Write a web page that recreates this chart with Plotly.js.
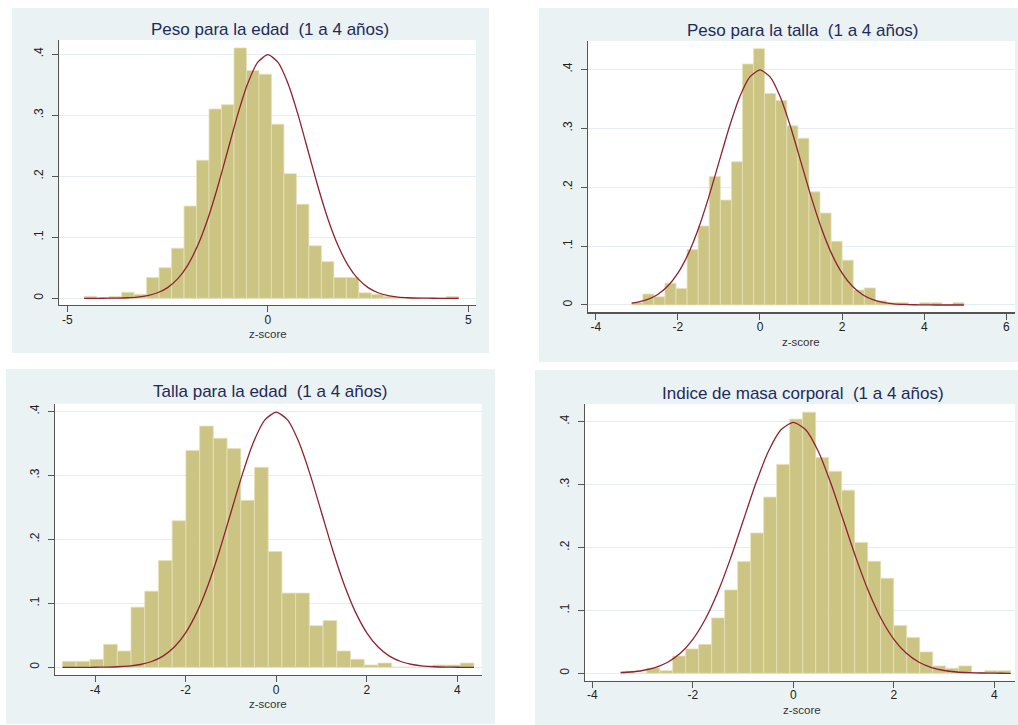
<!DOCTYPE html>
<html><head><meta charset="utf-8">
<script src="https://cdn.plot.ly/plotly-3.0.1.min.js"></script>
<style>html,body{margin:0;padding:0;background:#fff}#chart{width:1018px;height:725px}</style>
</head><body><div id="chart"></div>
<script>
// ---- data ----
const panelTitles = [
  'Peso para la edad  (1 a 4 años)',
  'Peso para la talla  (1 a 4 años)',
  'Talla para la edad  (1 a 4 años)',
  'Indice de masa corporal  (1 a 4 años)'
];
const xAxisTitle = 'z-score';

// histogram bins: first edge, bin width, densities (30 bins each)
const binStart = [-4.58, -3.123, -4.72, -3.436];
const binWidth = [0.3113, 0.2697, 0.3029, 0.2587];

const densPesoEdad = [0.0033, 0, 0.003, 0.0098, 0.0065, 0.034, 0.050, 0.082, 0.151, 0.226,
  0.310, 0.317, 0.410, 0.373, 0.367, 0.285, 0.204, 0.154, 0.086, 0.060,
  0.034, 0.034, 0.009, 0.0065, 0.003, 0.0015, 0.0015, 0, 0, 0.003];
const densPesoTalla = [0.004, 0.0187, 0.014, 0.037, 0.028, 0.094, 0.134, 0.218, 0.178, 0.243,
  0.409, 0.435, 0.359, 0.347, 0.304, 0.283, 0.192, 0.156, 0.108, 0.076,
  0.0255, 0.029, 0.007, 0.004, 0.004, 0.0015, 0.004, 0.004, 0, 0.004];
const densTallaEdad = [0.0094, 0.0094, 0.0125, 0.036, 0.0255, 0.094, 0.119, 0.167, 0.229, 0.339,
  0.377, 0.358, 0.342, 0.261, 0.3125, 0.181, 0.116, 0.116, 0.065, 0.073,
  0.0255, 0.0125, 0.0036, 0.0068, 0, 0, 0, 0.0036, 0.0036, 0.0068];
const densIMC = [0.0032, 0, 0.0085, 0.0042, 0.0275, 0.0387, 0.046, 0.088, 0.1325, 0.1775,
  0.223, 0.280, 0.332, 0.404, 0.415, 0.343, 0.321, 0.291, 0.208, 0.178,
  0.151, 0.076, 0.057, 0.034, 0.0117, 0.008, 0.0117, 0.0015, 0.0042, 0.0042];
const densities = [densPesoEdad, densPesoTalla, densTallaEdad, densIMC];

// reference normal density curve, read at 0.25 steps
const normX = [-4.75,-4.5,-4.25,-4,-3.75,-3.5,-3.25,-3,-2.75,-2.5,-2.25,-2,-1.75,-1.5,-1.25,-1,-0.75,-0.5,-0.25,0,
  0.25,0.5,0.75,1,1.25,1.5,1.75,2,2.25,2.5,2.75,3,3.25,3.5,3.75,4,4.25,4.5,4.75,5];
const normY = [0,0,0,0.0001,0.0004,0.0009,0.002,0.0044,0.0091,0.0175,0.0317,0.054,0.0863,0.1295,0.1826,0.242,0.3011,0.3521,0.3867,0.3989,
  0.3867,0.3521,0.3011,0.242,0.1826,0.1295,0.0863,0.054,0.0317,0.0175,0.0091,0.0044,0.002,0.0009,0.0004,0.0001,0,0,0,0];
// curve end points per panel (data range)
const curveLo = [-4.58, -3.123, -4.72, -3.436];
const curveLoY = [0, 0.003, 0, 0.0011];
const curveHi = [4.76, 4.969, 4.367, 4.325];
const curveHiY = [0, 0, 0, 0];

const xTickVals = [[-5, 0, 5], [-4, -2, 0, 2, 4, 6], [-4, -2, 0, 2, 4], [-4, -2, 0, 2, 4]];
const xTickText = [['-5', '0', '5'], ['-4', '-2', '0', '2', '4', '6'], ['-4', '-2', '0', '2', '4'], ['-4', '-2', '0', '2', '4']];
const yTickVals = [0, 0.1, 0.2, 0.3, 0.4];
const yTickText = ['0', '.1', '.2', '.3', '.4'];

// ---- layout geometry (pixels) ----
const W = 1018, H = 725;
const panelBox = [[12, 8, 489, 353], [539, 8, 1018, 362], [6, 369, 495, 724], [535, 370, 1018, 725]];
const plotBox  = [[59.3, 40, 476, 305], [587.7, 41, 1015, 312.3], [55, 403.7, 481.7, 675], [585, 404, 1015, 680.7]];
const xRanges = [[-5.2, 5.19], [-4.195, 6.21], [-4.884, 4.537], [-4.145, 4.41]];
const yRanges = [[-0.011, 0.423], [-0.0124, 0.448], [-0.012, 0.412], [-0.0118, 0.428]];
const titlePos = [[269.5, 30], [803, 30.5], [270, 392], [803.3, 393]];
const xTitlePos = [[268, 334], [801, 342], [268.3, 704], [801.7, 710]];

const BAR = '#CCC483', BAR_LINE = '#E6E1B9', CURVE = '#8E2231', AX = '#555555';
const FONT = 'Liberation Sans, Arial, sans-serif';

const data = [], shapes = [], annotations = [];
const layout = {
  width: W, height: H, margin: {l: 0, r: 0, t: 0, b: 0},
  paper_bgcolor: '#ffffff', plot_bgcolor: 'rgba(0,0,0,0)',
  showlegend: false, bargap: 0, font: {family: FONT, color: '#222'}
};

for (let p = 0; p < 4; p++) {
  const sfx = p === 0 ? '' : String(p + 1);
  const xa = 'x' + sfx, ya = 'y' + sfx;
  const dens = densities[p];
  const centers = dens.map((_, i) => binStart[p] + binWidth[p] * (i + 0.5));
  data.push({
    type: 'bar', x: centers, y: dens, width: binWidth[p], xaxis: xa, yaxis: ya,
    marker: {color: BAR, line: {color: BAR_LINE, width: 0.8}}, hoverinfo: 'skip'
  });
  const cx = [curveLo[p]], cy = [curveLoY[p]];
  normX.forEach((x, i) => { if (x > curveLo[p] && x < curveHi[p]) { cx.push(x); cy.push(normY[i]); } });
  cx.push(curveHi[p]); cy.push(curveHiY[p]);
  data.push({
    type: 'scatter', mode: 'lines', x: cx, y: cy, xaxis: xa, yaxis: ya,
    line: {color: CURVE, width: 1.3, shape: 'spline', smoothing: 0.6}, hoverinfo: 'skip'
  });

  const pb = plotBox[p];
  layout['xaxis' + sfx] = {
    domain: [pb[0] / W, pb[2] / W], range: xRanges[p], anchor: ya,
    tickmode: 'array', tickvals: xTickVals[p], ticktext: xTickText[p],
    ticks: 'outside', ticklen: 6, tickcolor: AX, tickwidth: 1, ticklabelstandoff: -3,
    showline: true, linecolor: AX, linewidth: 1.2, showgrid: false, zeroline: false,
    tickfont: {family: FONT, size: 12, color: '#222'},
    fixedrange: true
  };
  layout['yaxis' + sfx] = {
    domain: [1 - pb[3] / H, 1 - pb[1] / H], range: yRanges[p], anchor: xa,
    tickmode: 'array', tickvals: yTickVals, ticktext: yTickText, tickangle: -90,
    ticks: 'outside', ticklen: 6, tickcolor: AX, tickwidth: 1, ticklabelstandoff: 4,
    showline: true, linecolor: AX, linewidth: 1.2, showgrid: true, gridcolor: '#E4EDF0', gridwidth: 1,
    zeroline: false, tickfont: {family: FONT, size: 12, color: '#222'}, fixedrange: true
  };

  const bx = panelBox[p];
  shapes.push({type: 'rect', xref: 'paper', yref: 'paper', layer: 'below',
    x0: bx[0] / W, x1: bx[2] / W, y0: 1 - bx[3] / H, y1: 1 - bx[1] / H,
    fillcolor: '#EAF2F3', line: {width: 0}});
  shapes.push({type: 'rect', xref: xa + ' domain', yref: ya + ' domain', layer: 'below',
    x0: 0, x1: 1, y0: 0, y1: 1, fillcolor: '#FFFFFF', line: {width: 0}});

  annotations.push({
    text: panelTitles[p], xref: 'paper', yref: 'paper',
    x: titlePos[p][0] / W, y: 1 - titlePos[p][1] / H, xanchor: 'center', yanchor: 'middle',
    showarrow: false, font: {family: FONT, size: 17, color: '#1E2B5A'}
  });
  annotations.push({
    text: xAxisTitle, xref: 'paper', yref: 'paper',
    x: xTitlePos[p][0] / W, y: 1 - xTitlePos[p][1] / H, xanchor: 'center', yanchor: 'middle',
    showarrow: false, font: {family: FONT, size: 11.5, color: '#333'}
  });
}
layout.shapes = shapes;
layout.annotations = annotations;

Plotly.newPlot('chart', data, layout, {staticPlot: true, displayModeBar: false});
</script>
</body></html>
